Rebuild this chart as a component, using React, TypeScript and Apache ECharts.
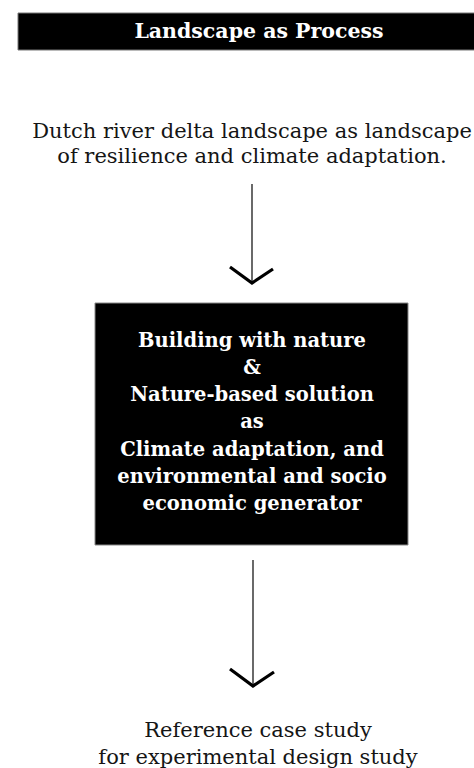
import React, { useEffect, useRef } from "react";
import * as echarts from "echarts";

const titleText = "Landscape as Process";
const introLines = [
  "Dutch river delta landscape as landscape",
  "of resilience and climate adaptation.",
];
const boxLines = [
  "Building with nature",
  "&",
  "Nature-based solution",
  "as",
  "Climate adaptation, and",
  "environmental and socio",
  "economic generator",
];
const outcomeLines = ["Reference case study", "for experimental design study"];

const FONT = "'DejaVu Serif', 'Liberation Serif', serif";

export default function App() {
  const ref = useRef<HTMLDivElement>(null);
  useEffect(() => {
    if (!ref.current) return;
    const chart = echarts.init(ref.current, null, { renderer: "svg" });

    const els: any[] = [];
    // title bar
    els.push({
      type: "rect",
      shape: { x: 18, y: 13, width: 470, height: 37 },
      style: { fill: "#000", stroke: "#777", lineWidth: 1 },
    });
    els.push({
      type: "text",
      x: 259,
      y: 30.5,
      style: {
        text: titleText,
        fill: "#fff",
        font: `bold 20.5px ${FONT}`,
        align: "center",
        verticalAlign: "middle",
      },
    });
    introLines.forEach((t, i) => {
      els.push({
        type: "text",
        x: 252,
        y: 130.5 + i * 25.5,
        style: {
          text: t,
          fill: "#151515",
          font: `21px ${FONT}`,
          align: "center",
          verticalAlign: "middle",
        },
      });
    });
    // arrow 1
    els.push({
      type: "line",
      shape: { x1: 252, y1: 184, x2: 252, y2: 284 },
      style: { stroke: "#444", lineWidth: 1.6 },
    });
    els.push({
      type: "polyline",
      shape: { points: [[230, 267], [252, 283], [273, 269]] },
      style: { stroke: "#000", lineWidth: 3.2, fill: null },
    });
    // box
    els.push({
      type: "rect",
      shape: { x: 95, y: 303, width: 313, height: 242 },
      style: { fill: "#000", stroke: "#888", lineWidth: 1 },
    });
    boxLines.forEach((t, i) => {
      els.push({
        type: "text",
        x: 252,
        y: 340 + i * 27.3,
        style: {
          text: t,
          fill: "#fff",
          font: `bold 19.5px ${FONT}`,
          align: "center",
          verticalAlign: "middle",
        },
      });
    });
    // arrow 2
    els.push({
      type: "line",
      shape: { x1: 253, y1: 560, x2: 253, y2: 687 },
      style: { stroke: "#444", lineWidth: 1.6 },
    });
    els.push({
      type: "polyline",
      shape: { points: [[230, 669], [253, 686], [274, 672]] },
      style: { stroke: "#000", lineWidth: 3.2, fill: null },
    });
    outcomeLines.forEach((t, i) => {
      els.push({
        type: "text",
        x: 258,
        y: 730 + i * 27,
        style: {
          text: t,
          fill: "#151515",
          font: `21px ${FONT}`,
          align: "center",
          verticalAlign: "middle",
        },
      });
    });

    chart.setOption({
      animation: false,
      backgroundColor: "#fff",
      graphic: { elements: els },
    });
    return () => chart.dispose();
  }, []);
  return (
    <div
      ref={ref}
      style={{ position: "fixed", left: 0, top: 0, width: 474, height: 768 }}
    />
  );
}
